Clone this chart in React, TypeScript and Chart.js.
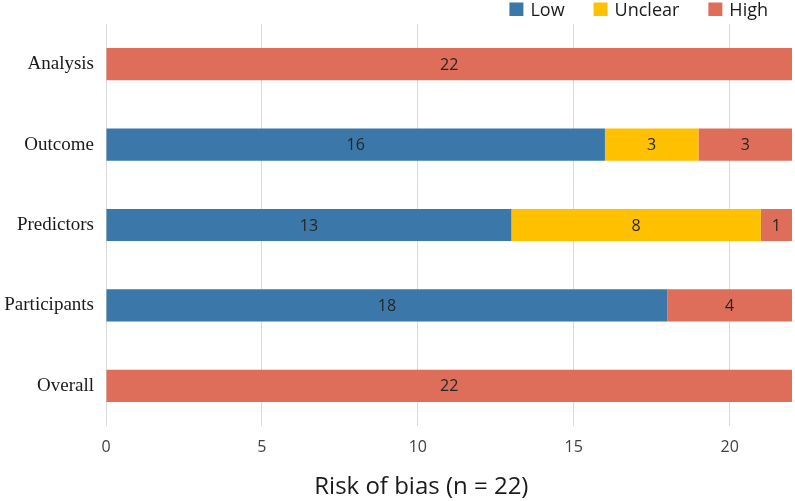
import React, { useEffect, useRef } from "react";
import { Chart, registerables } from "chart.js";

Chart.register(...registerables);

const categories = ["Analysis", "Outcome", "Predictors", "Participants", "Overall"];
const seriesNames = ["Low", "Unclear", "High"];
const lowValues = [0, 16, 13, 18, 0];
const unclearValues = [0, 3, 8, 0, 0];
const highValues = [22, 3, 1, 4, 22];
const xTickValues = [0, 5, 10, 15, 20];
const xMax = 22;
const axisTitle = "Risk of bias (n = 22)";

const seriesColors = ["#3B77A8", "#FFC000", "#DE6E5A"];
const sansFont = "'Open Sans', 'DejaVu Sans', sans-serif";
const serifFont = "'Liberation Serif', 'DejaVu Serif', serif";

const dataLabelPlugin = {
  id: "dataLabels",
  afterDatasetsDraw(chart: any) {
    const ctx = chart.ctx;
    ctx.save();
    ctx.font = `16px ${sansFont}`;
    ctx.fillStyle = "#262626";
    ctx.textAlign = "center";
    ctx.textBaseline = "middle";
    chart.data.datasets.forEach((ds: any, di: number) => {
      const meta = chart.getDatasetMeta(di);
      meta.data.forEach((el: any, i: number) => {
        const v = ds.data[i];
        if (!v) return;
        const p = el.getCenterPoint();
        ctx.fillText(String(v), p.x, p.y + 1);
      });
    });
    ctx.restore();
  },
};

const legendPlugin = {
  id: "customLegend",
  afterDraw(chart: any) {
    const ctx = chart.ctx;
    ctx.save();
    ctx.font = `18px ${sansFont}`;
    ctx.textBaseline = "alphabetic";
    ctx.textAlign = "left";
    let right = chart.width - 27;
    const ds = chart.data.datasets;
    for (let i = ds.length - 1; i >= 0; i--) {
      const label = ds[i].label;
      const tw = ctx.measureText(label).width;
      const textX = right - tw;
      const boxX = textX - 7 - 14;
      ctx.fillStyle = ds[i].backgroundColor;
      ctx.fillRect(boxX, 2.5, 14, 13.5);
      ctx.fillStyle = "#1a1a1a";
      ctx.fillText(label, textX, 16);
      right = boxX - 29;
    }
    ctx.restore();
  },
};

const titlePlugin = {
  id: "bottomTitle",
  afterDraw(chart: any) {
    const ctx = chart.ctx;
    ctx.save();
    ctx.font = `24px ${sansFont}`;
    ctx.fillStyle = "#1a1a1a";
    ctx.textAlign = "center";
    ctx.textBaseline = "alphabetic";
    ctx.fillText(axisTitle, chart.width * 0.53, 494);
    ctx.restore();
  },
};

export default function App() {
  const canvasRef = useRef<HTMLCanvasElement | null>(null);

  useEffect(() => {
    document.body.style.margin = "0";
    const canvas = canvasRef.current;
    if (!canvas) return;
    const values = [lowValues, unclearValues, highValues];
    const chart = new Chart(canvas, {
      type: "bar",
      data: {
        labels: categories,
        datasets: seriesNames.map((name, i) => ({
          label: name,
          data: values[i],
          backgroundColor: seriesColors[i],
          borderWidth: 0,
          barPercentage: 0.4,
          categoryPercentage: 1,
        })),
      },
      options: {
        indexAxis: "y",
        responsive: false,
        animation: false,
        layout: { padding: { top: 24, right: 3, left: 0, bottom: 0 } },
        plugins: {
          legend: { display: false },
          tooltip: { enabled: false },
          title: { display: false },
        },
        scales: {
          x: {
            stacked: true,
            min: 0,
            max: xMax,
            afterBuildTicks: (scale: any) => {
              scale.ticks = xTickValues.map((v) => ({ value: v }));
            },
            afterFit: (scale: any) => {
              scale.height = 75;
            },
            grid: { color: "#d9d9d9", lineWidth: 1, drawTicks: false },
            border: { display: false },
            ticks: {
              padding: 12,
              color: "#404040",
              font: { family: sansFont, size: 16 },
            },
          },
          y: {
            stacked: true,
            afterFit: (scale: any) => {
              scale.width = 106;
            },
            grid: { display: false, drawTicks: false },
            border: { display: false },
            ticks: {
              padding: 12,
              color: "#1a1a1a",
              font: { family: serifFont, size: 19 },
            },
          },
        },
      },
      plugins: [dataLabelPlugin, legendPlugin, titlePlugin],
    } as any);
    return () => chart.destroy();
  }, []);

  return (
    <div style={{ position: "absolute", left: 0, top: 0, width: 795, height: 501 }}>
      <canvas ref={canvasRef} width={795} height={501} />
    </div>
  );
}
